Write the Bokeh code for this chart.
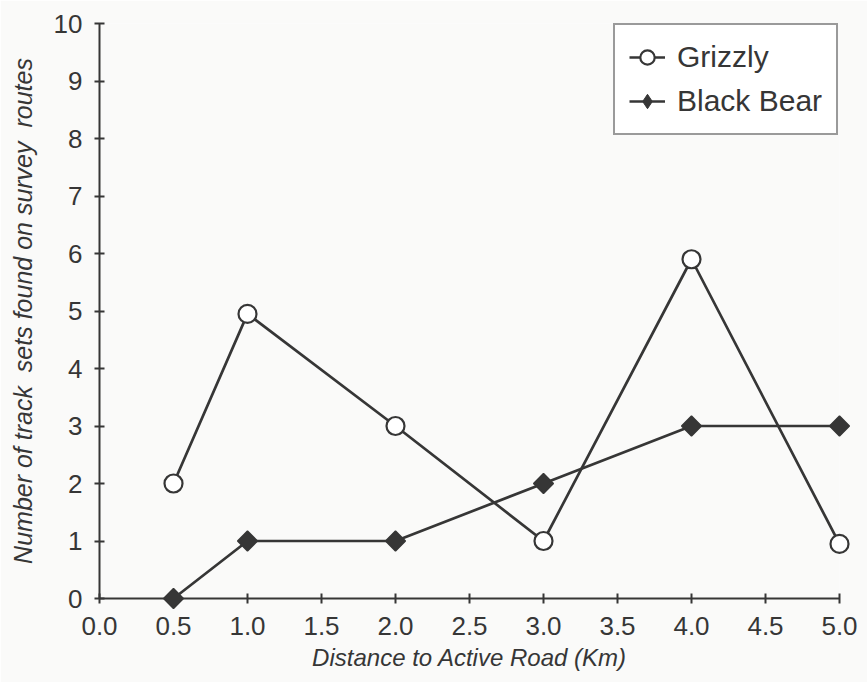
import math
from bokeh.plotting import figure
from bokeh.models import Range1d, FixedTicker, Legend, LegendItem
from bokeh.embed import file_html
from bokeh.resources import INLINE

# Distance to active road (km) and track sets found on survey routes
distance_km = [0.5, 1.0, 2.0, 3.0, 4.0, 5.0]
grizzly = [2, 4.95, 3, 1, 5.9, 0.95]
black_bear = [0, 1, 1, 2, 3, 3]

x_ticks = [0.0, 0.5, 1.0, 1.5, 2.0, 2.5, 3.0, 3.5, 4.0, 4.5, 5.0]
y_ticks = list(range(0, 11))

INK = "#363636"
FONT = "Liberation Sans"
BG = "#fafaf9"

p = figure(
    width=867, height=682,
    x_range=Range1d(0, 5), y_range=Range1d(0, 10),
    output_backend="svg", toolbar_location=None,
    min_border_left=99, min_border_top=23, min_border_right=28, min_border_bottom=84,
    background_fill_color=BG, border_fill_color=BG,
)
p.outline_line_color = None
p.grid.visible = False

xa = p.xaxis[0]
xa.ticker = FixedTicker(ticks=x_ticks)
xa.major_label_overrides = {t: f"{t:.1f}" for t in x_ticks}
xa.axis_label = "Distance to Active Road (Km)"
xa.axis_label_text_font_size = "24px"
xa.axis_label_standoff = 6
xa.major_label_standoff = 13

ya = p.yaxis[0]
ya.ticker = FixedTicker(ticks=y_ticks)
ya.axis_label = "Number of track\u00a0 sets found on survey\u00a0 routes"
ya.axis_label_text_font_size = "25px"
ya.axis_label_standoff = 14
ya.major_label_standoff = 12

for ax in (xa, ya):
    ax.axis_line_color = INK
    ax.axis_line_width = 2
    ax.major_tick_line_color = INK
    ax.major_tick_line_width = 2
    ax.major_tick_in = 5
    ax.major_tick_out = 5
    ax.minor_tick_line_color = None
    ax.major_label_text_font = FONT
    ax.major_label_text_font_size = "26px"
    ax.major_label_text_color = INK
    ax.axis_label_text_font = FONT
    ax.axis_label_text_font_style = "italic"
    ax.axis_label_text_color = INK

# Series are drawn above the axes so the markers on the frame edges stay whole
g_line = p.line(distance_km, grizzly, line_color=INK, line_width=2.7, level="overlay")
g_pts = p.scatter(distance_km, grizzly, marker="circle", size=18,
                  fill_color="white", line_color=INK, line_width=2.2, level="overlay")

b_line = p.line(distance_km, black_bear, line_color=INK, line_width=2.7, level="overlay")
b_pts = p.scatter(distance_km, black_bear, marker="square", size=14,
                  angle=math.pi / 4, fill_color=INK, line_color=INK, line_width=1.5,
                  level="overlay")

# diamond swatch for the legend (legend markers ignore rotation); it sits
# underneath the rotated squares, which cover it completely
b_key = p.scatter(distance_km, black_bear, marker="diamond", size=12,
                  fill_color=INK, line_color=INK, line_width=1)

legend = Legend(
    items=[
        LegendItem(label="Grizzly", renderers=[g_line, g_pts]),
        LegendItem(label="Black Bear", renderers=[b_line, b_key]),
    ],
    location=(514, 463),
    label_text_font=FONT, label_text_font_size="30px", label_text_color=INK,
    label_height=30, glyph_height=36, glyph_width=36, label_standoff=12,
    spacing=8, padding=14, margin=0,
    border_line_color=INK, border_line_width=2,
    background_fill_color="white", background_fill_alpha=1.0,
)
p.add_layout(legend, "center")

open("out.html", "w").write(file_html(p, INLINE))
